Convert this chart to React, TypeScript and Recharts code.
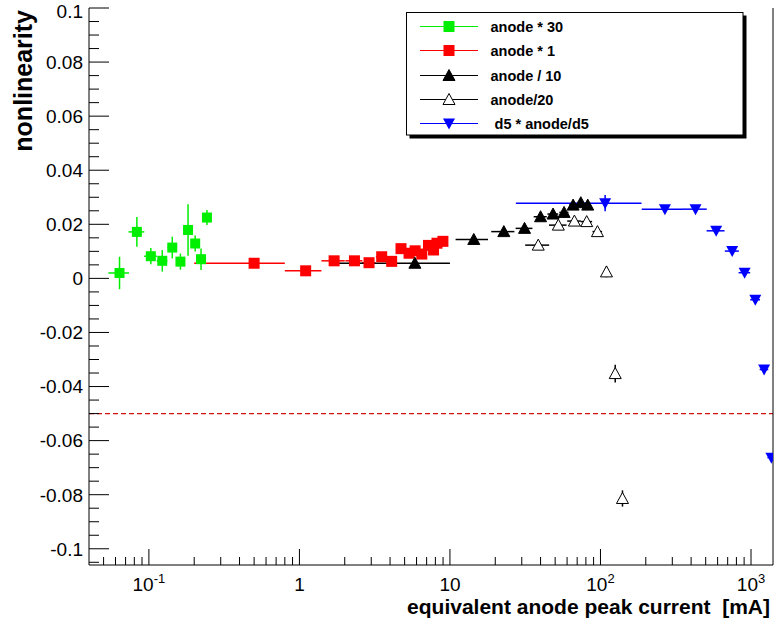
import React from "react";
import { ScatterChart, Scatter, XAxis, YAxis, ErrorBar, ReferenceLine } from "recharts";

// anode * 30 (green squares)
const greenX = [0.0638, 0.0832, 0.103, 0.1227, 0.143, 0.162, 0.182, 0.203, 0.222, 0.243];
const greenY = [0.002, 0.0172, 0.0082, 0.0065, 0.0114, 0.0062, 0.0179, 0.0129, 0.0071, 0.0225];
const greenEx = [0.01, 0.01, 0.01, 0.01, 0.01, 0.01, 0.01, 0.01, 0.01, 0.01];
const greenEy = [0.006, 0.0055, 0.003, 0.004, 0.004, 0.003, 0.0095, 0.003, 0.004, 0.0028];

// anode * 1 (red squares)
const redX = [0.5, 1.1, 1.7, 2.32, 2.9, 3.52, 4.1, 4.73, 5.35, 5.87, 6.5, 7.2, 7.78, 8.2, 8.98];
const redY = [0.0056, 0.0028, 0.0065, 0.0065, 0.0058, 0.008, 0.0063, 0.011, 0.0093, 0.0102, 0.009, 0.0122, 0.0105, 0.013, 0.0137];
const redEx = [0.3, 0.3, 0.3, 0.3, 0.3, 0.3, 0.3, 0.3, 0.3, 0.3, 0.3, 0.3, 0.3, 0.3, 0.3];

// anode / 10 (filled triangles)
const blackX = [5.85, 14.4, 22.8, 31.3, 40, 48.4, 57.3, 65.8, 74, 82.3];
const blackY = [0.0056, 0.0144, 0.0173, 0.0185, 0.0228, 0.0238, 0.0244, 0.0271, 0.028, 0.0271];
const blackEx = [4.15, 3.5, 4, 4, 4, 4, 4, 4, 4, 4];

// anode/20 (open triangles)
const openX = [38.6, 52.5, 67.1, 81, 95.5, 109.6, 125.3, 140];
const openY = [0.0123, 0.0197, 0.0212, 0.021, 0.0173, 0.0024, -0.0352, -0.0814];
const openEx = [7, 7, 7, 7, 7, 0, 0, 0];
const openEy = [0.001, 0.001, 0.001, 0.001, 0.001, 0.002, 0.0033, 0.003];

// d5 * anode/d5 (blue down triangles)
const blueX = [107.4, 268, 428, 587, 750, 907, 1068, 1222, 1366];
const blueY = [0.0278, 0.0256, 0.0256, 0.0176, 0.0101, 0.0021, -0.0079, -0.0337, -0.0663];
const blueEx = [80, 80, 80, 80, 80, 80, 80, 80, 30];
const blueEy = [0.003, 0.001, 0.001, 0.001, 0.001, 0.001, 0.001, 0.001, 0.001];

const legendNames = ["anode * 30", "anode * 1", "anode / 10", "anode/20", " d5 * anode/d5"];

const yMajor = [-0.1, -0.08, -0.06, -0.04, -0.02, 0, 0.02, 0.04, 0.06, 0.08, 0.1];
const yMajorLabels = ["-0.1", "-0.08", "-0.06", "-0.04", "-0.02", "0", "0.02", "0.04", "0.06", "0.08", "0.1"];
const xMajor = [0.1, 1, 10, 100, 1000];
const xMajorLabels = [["10", "-1"], ["1", ""], ["10", ""], ["10", "2"], ["10", "3"]];

const W = 775, H = 627;
const PL = 89, PT = 8, PB = 565;
const FONT = "'Liberation Sans', Arial, Helvetica, sans-serif";

const GREEN = "#00ee00";
const RED = "#ff0000";
const BLUE = "#0000ff";

const zip = (xs: number[], ys: number[], ex?: any[], ey?: number[]) =>
  xs.map((x, i) => ({ x, y: ys[i], ex: ex ? ex[i] : 0, ey: ey ? ey[i] : 0 }));

const greenData = zip(greenX, greenY, greenEx, greenEy);
const redData = zip(redX, redY, redEx);
const blackData = zip(blackX, blackY, blackEx);
const openData = zip(openX, openY, openEx, openEy);
const blueData = zip(blueX, blueY, blueEx.map((e, i) => (i === blueEx.length - 1 ? [80, e] : e)), blueEy);

// minor ticks
const yTicks: number[] = [];
for (let i = -21; i <= 20; i++) yTicks.push(Number((i * 0.005).toFixed(3)));
const xTicks: number[] = [];
for (let d = -2; d <= 3; d++) {
  for (let k = 1; k <= 9; k++) {
    const v = Number((k * Math.pow(10, d)).toPrecision(3));
    if (v > 0.04 && v < 1400) xTicks.push(v);
  }
}

const square = (color: string, s = 10) => (p: any) => (
  <rect x={p.cx - s / 2} y={p.cy - s / 2} width={s} height={s} fill={color} />
);
const triUp = (fill: string) => (p: any) => (
  <path d={`M${p.cx},${p.cy - 6} L${p.cx + 6},${p.cy + 5} L${p.cx - 6},${p.cy + 5} Z`}
    fill={fill} stroke="#000" strokeWidth={1} />
);
const triDown = (color: string) => (p: any) => (
  <path d={`M${p.cx},${p.cy + 6} L${p.cx + 6},${p.cy - 5} L${p.cx - 6},${p.cy - 5} Z`} fill={color} />
);

const YTick = (props: any) => {
  const v = props.payload.value;
  const y = props.payload.coordinate ?? props.y;
  const idx = yMajor.findIndex((m) => Math.abs(m - v) < 1e-9);
  const major = idx >= 0;
  return (
    <g>
      <line x1={PL} x2={PL + (major ? 20 : 10)} y1={y} y2={y} stroke="#000" />
      {major && (
        <text x={83} y={Math.max(y, 11)} dy="0.36em" textAnchor="end" fontSize={19} fontFamily={FONT} fill="#000">
          {yMajorLabels[idx]}
        </text>
      )}
    </g>
  );
};

const XTick = (props: any) => {
  const v = props.payload.value;
  const x = props.payload.coordinate ?? props.x;
  const idx = xMajor.findIndex((m) => Math.abs(m - v) / m < 1e-6);
  const major = idx >= 0;
  return (
    <g>
      <line x1={x} x2={x} y1={PB} y2={PB - (major ? 16 : 8)} stroke="#000" />
      {major && (
        <text x={x} y={591} textAnchor="middle" fontSize={19} fontFamily={FONT} fill="#000">
          <tspan>{xMajorLabels[idx][0]}</tspan>
          {xMajorLabels[idx][1] && <tspan dy={-8} fontSize={13}>{xMajorLabels[idx][1]}</tspan>}
        </text>
      )}
    </g>
  );
};

const xTitle = () => (
  <text x={770} y={614} textAnchor="end" xmlSpace="preserve" fontSize={21} fontWeight="bold"
    fontFamily={FONT} fill="#000" style={{ whiteSpace: "pre" }}>
    {"equivalent anode peak current  [mA]"}
  </text>
);
const yTitle = () => (
  <text x={32} y={10} textAnchor="end" transform="rotate(-90 32 10)" fontSize={25}
    fontWeight="bold" fontFamily={FONT} fill="#000">
    nonlinearity
  </text>
);

const legendRows = [
  { color: GREEN, mark: square(GREEN, 11) },
  { color: RED, mark: square(RED, 11) },
  { color: "#000", mark: triUp("#000") },
  { color: "#000", mark: triUp("#fff") },
  { color: BLUE, mark: triDown(BLUE) },
];
const legendY = [26.5, 50.5, 75.5, 99.5, 123.5];

export default function App() {
  return (
    <div style={{ position: "absolute", left: 0, top: 0, width: W, height: H, background: "#fff" }}>
      <ScatterChart width={W} height={H} margin={{ top: PT, right: 0, bottom: 0, left: 0 }}>
        <XAxis dataKey="x" type="number" scale="log" domain={[0.04, 1400]} allowDataOverflow
          ticks={xTicks} interval={0} tick={<XTick />} tickLine={false} height={62}
          axisLine={{ stroke: "#000" }} label={xTitle} />
        <XAxis xAxisId="top" orientation="top" type="number" height={0} tick={false}
          tickLine={false} axisLine={{ stroke: "#000" }} />
        <YAxis dataKey="y" type="number" domain={[-0.106, 0.1]} allowDataOverflow
          ticks={yTicks} interval={0} tick={<YTick />} tickLine={false} width={89}
          axisLine={{ stroke: "#000" }} label={yTitle} />
        <YAxis yAxisId="right" orientation="right" type="number" width={2} tick={false}
          tickLine={false} axisLine={{ stroke: "#000" }} />
        <ReferenceLine y={-0.05} stroke="#cc1111" strokeWidth={1.3} strokeDasharray="5 3" />
        <Scatter data={greenData} shape={square(GREEN)} isAnimationActive={false}>
          <ErrorBar dataKey="ey" direction="y" width={0} stroke={GREEN} isAnimationActive={false} />
          <ErrorBar dataKey="ex" direction="x" width={0} stroke={GREEN} isAnimationActive={false} />
        </Scatter>
        <Scatter data={redData} shape={square(RED, 11)} isAnimationActive={false}>
          <ErrorBar dataKey="ex" direction="x" width={0} stroke={RED} isAnimationActive={false} />
        </Scatter>
        <Scatter data={blackData} shape={triUp("#000")} isAnimationActive={false}>
          <ErrorBar dataKey="ex" direction="x" width={0} stroke="#000" isAnimationActive={false} />
        </Scatter>
        <Scatter data={openData} shape={triUp("#fff")} isAnimationActive={false}>
          <ErrorBar dataKey="ey" direction="y" width={0} stroke="#000" isAnimationActive={false} />
          <ErrorBar dataKey="ex" direction="x" width={0} stroke="#000" isAnimationActive={false} />
        </Scatter>
        <Scatter data={blueData} shape={triDown(BLUE)} isAnimationActive={false}>
          <ErrorBar dataKey="ey" direction="y" width={0} stroke={BLUE} isAnimationActive={false} />
          <ErrorBar dataKey="ex" direction="x" width={0} stroke={BLUE} isAnimationActive={false} />
        </Scatter>
      </ScatterChart>
      <svg width={W} height={H} style={{ position: "absolute", left: 0, top: 0, pointerEvents: "none" }}>
        <rect x={409.5} y={15.5} width={337} height={123} fill="#000" />
        <rect x={406.5} y={12.5} width={336.5} height={122.5} fill="#fff" stroke="#000" />
        {legendRows.map((r, i) => (
          <g key={i}>
            <line x1={420} x2={478} y1={legendY[i]} y2={legendY[i]} stroke={r.color} />
            {r.mark({ cx: 449, cy: legendY[i] })}
            <text x={490.5} y={legendY[i]} dy="0.36em" xmlSpace="preserve" fontSize={14.5}
              fontWeight="bold" fontFamily={FONT} fill="#000" style={{ whiteSpace: "pre" }}>
              {legendNames[i]}
            </text>
          </g>
        ))}
      </svg>
    </div>
  );
}
